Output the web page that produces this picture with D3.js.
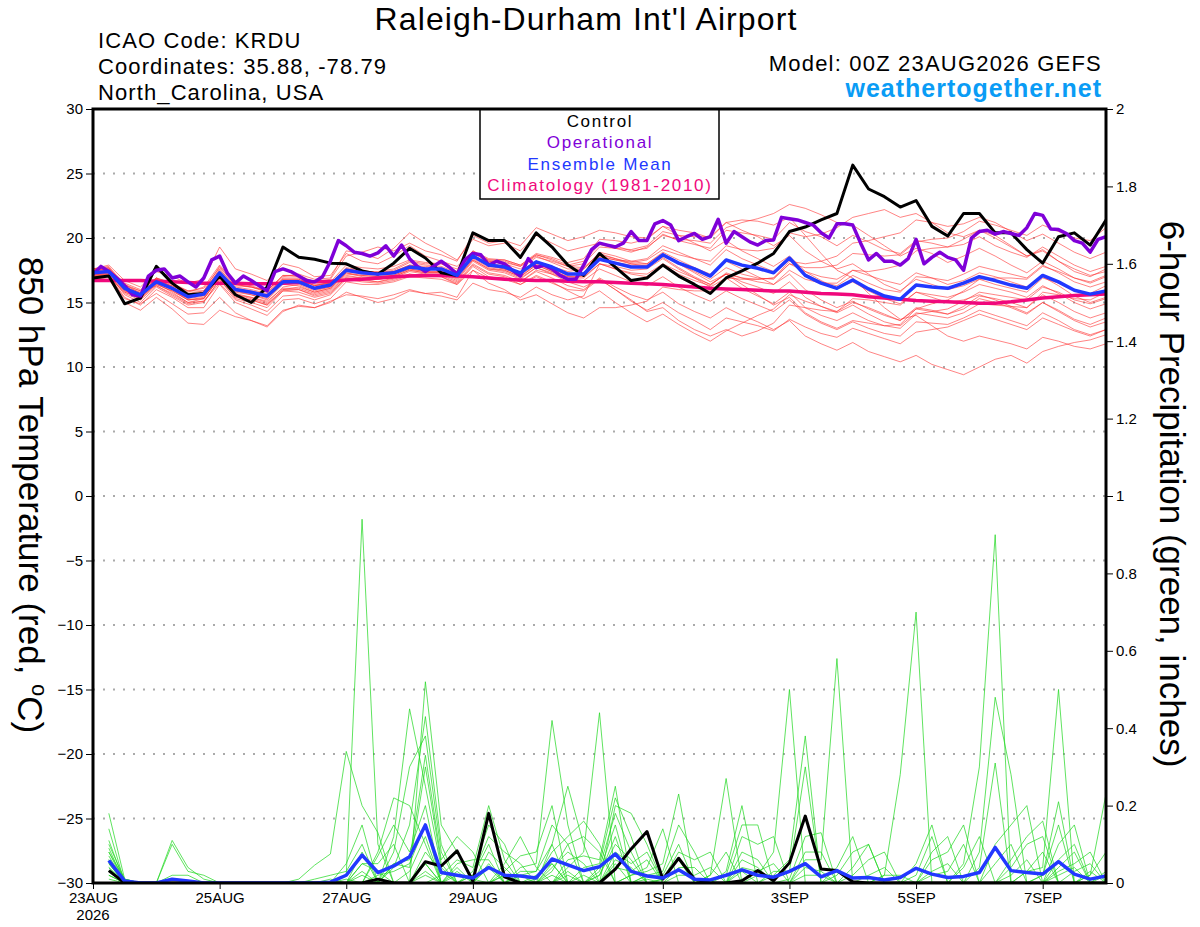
<!DOCTYPE html>
<html>
<head>
<meta charset="utf-8">
<script src="https://cdn.jsdelivr.net/npm/d3@7"></script>
<style>
  body { margin: 0; background: #fff; }
  text { font-family: "Liberation Sans", Arial, Helvetica, sans-serif; }
</style>
</head>
<body>
<svg id="chart" width="1200" height="927"></svg>
<script>
// ---- data ----
var runStart = Date.UTC(2026, 7, 23, 0);
var tempTicks = [-30, -25, -20, -15, -10, -5, 0, 5, 10, 15, 20, 25, 30];
var precipTicks = [0, 0.2, 0.4, 0.6, 0.8, 1, 1.2, 1.4, 1.6, 1.8, 2];
var dateTicks = ["2026-08-23", "2026-08-25", "2026-08-27", "2026-08-29", "2026-09-01", "2026-09-03", "2026-09-05", "2026-09-07"];

// 850 hPa temperature, 6-hourly from 00Z 23AUG
var controlTemp = [16.9,17.05,14.9,15.35,17.8,16.5,15.6,15.7, 17.05,15.6,15.0,16.2,19.3,18.5,18.35,18.05,
  18.0,17.45,17.2,18.05,19.2,18.45,17.3,17.1, 20.4,19.8,19.8,18.5,20.4,19.3,17.9,17.1,
  18.8,17.75,16.7,16.9,17.9,17.05,16.4,15.7, 16.9,17.45,18.05,18.8,20.5,20.85,21.4,21.9,
  25.65,23.8,23.2,22.4,22.9,20.9,20.15,21.9, 21.9,20.4,20.4,19.1,18.05,20.1,20.4,19.45, 21.4];
var meanTemp = [17.3,17.4,16.1,15.6,16.6,16.1,15.45,15.65, 17.3,16.0,15.8,15.5,16.6,16.6,16.1,16.35,
  17.5,17.3,17.2,17.3,17.75,17.6,17.6,17.1, 18.6,17.9,17.75,17.3,18.15,17.75,17.2,17.2,
  18.35,18.05,17.75,17.75,18.7,18.05,17.6,17.05, 18.3,17.9,17.65,17.3,18.45,17.1,16.5,16.1,
  16.75,16.05,15.5,15.25,16.35,16.2,16.1,16.5, 17.0,16.7,16.35,16.1,17.1,16.6,15.95,15.65, 15.9];
var climoTemp = [16.7,16.7,16.7,16.7,16.65,16.6,16.55,16.5, 16.5,16.5,16.45,16.45,16.5,16.55,16.6,16.65,
  16.75,16.8,16.9,17.0,17.05,17.1,17.1,17.05, 17.0,16.9,16.8,16.75,16.7,16.7,16.65,16.6,
  16.6,16.55,16.5,16.45,16.4,16.3,16.2,16.1, 16.05,16.0,15.95,15.9,15.9,15.8,15.7,15.65,
  15.6,15.45,15.35,15.25,15.15,15.1,15.05,15.0, 14.95,14.95,15.05,15.2,15.35,15.45,15.55,15.6, 15.65];
// operational run, 3-hourly
var operationalTemp = [17.2,17.8,17.4,16.9,16.3,15.6,15.5,17.05,17.5,17.6, 16.9,17.05,16.6,16.2,16.9,18.3,18.6,17.25,16.5,17.05,
  16.7,16.3,15.9,17.4,17.6,17.4,17.05,16.7,16.6,17.0, 18.2,19.8,19.4,18.9,18.8,18.6,18.85,19.4,18.6,19.45,
  18.4,17.8,17.4,17.8,18.2,17.75,17.2,18.3,18.8,18.7, 17.9,18.2,18.0,17.5,17.05,18.4,17.7,17.9,17.6,17.1,
  16.8,16.8,17.9,19.1,19.6,19.45,19.3,19.6,20.5,19.8, 19.8,21.1,21.35,21.0,19.8,20.1,20.35,19.9,20.1,21.45,
  19.6,20.5,20.1,19.7,19.45,19.8,19.85,21.6,21.5,21.4, 21.2,21.0,20.4,20.0,21.1,21.1,21.0,19.6,18.3,18.8,
  18.2,18.2,17.9,18.4,19.9,18.0,18.5,18.9,18.5,18.3, 17.5,20.0,20.5,20.6,20.3,20.5,20.35,20.2,20.8,21.9,
  21.75,20.7,20.65,20.35,19.8,19.6,18.9,19.9,20.1];
var memberTemp = [
  [17.5,17.6,16.0,15.2,16.9,16.5,15.8,16.2, 17.9,16.5,16.3,15.9,17.0,17.2,16.8,16.9, 19.0,18.8,18.4,19.2,20.4,19.6,19.0,18.3, 19.9,19.4,19.6,19.0,20.2,19.6,19.0,19.3, 19.6,19.4,19.0,19.2,20.3,19.8,19.5,19.2, 20.6,20.4,20.2,19.9,21.2,20.5,20.1,19.4, 20.2,19.7,19.1,18.8,19.8,19.6,19.3,19.5, 20.1,19.4,18.9,18.5,19.3,18.6,17.9,17.4, 17.8],
  [17.0,17.2,15.6,15.0,16.2,15.5,14.8,15.0, 16.8,15.3,15.0,14.6,15.9,15.8,15.4,15.7, 16.9,16.8,16.6,16.9,17.2,17.0,17.1,16.6, 18.0,17.3,17.1,16.6,17.4,16.9,16.3,16.0, 16.9,16.2,15.6,15.2,15.8,14.9,14.3,13.8, 14.6,14.0,13.5,12.9,13.6,12.4,11.8,11.3, 11.9,11.2,10.8,10.4,10.9,10.2,9.8,9.4, 10.0,10.6,10.9,10.3,11.2,11.6,11.9,12.1, 12.5],
  [17.6,17.8,16.3,15.9,16.8,16.0,15.2,15.4, 17.1,15.7,15.4,15.0,16.2,16.4,15.9,16.2, 17.3,17.0,16.9,17.0,17.5,17.3,17.4,16.9, 18.9,18.2,18.1,17.8,18.7,18.4,17.9,18.2, 19.5,19.2,18.9,19.3,20.2,19.9,19.8,19.6, 20.8,21.2,21.5,21.9,22.6,22.3,21.8,21.2, 21.0,20.2,19.4,18.6,19.2,18.8,18.1,18.6, 19.2,18.6,17.9,17.3,18.2,17.6,16.9,16.5, 17.0],
  [17.2,17.1,15.4,14.8,16.0,15.4,14.6,14.6, 16.4,15.0,14.5,14.0,15.2,15.3,14.9,15.3, 16.6,16.4,16.4,16.6,17.0,16.9,16.8,16.4, 17.8,17.0,16.8,16.4,17.0,16.5,16.0,15.9, 16.8,16.0,15.1,14.4,15.0,14.2,13.6,12.9, 13.8,13.5,13.2,12.8,13.7,13.1,12.6,12.3, 13.0,12.6,12.2,11.8,12.7,12.9,13.1,13.6, 14.1,13.7,13.3,12.9,13.8,13.3,12.8,12.4, 12.9],
  [17.4,17.5,16.4,15.7,16.8,16.4,15.9,15.9, 17.5,16.3,16.2,15.9,17.1,17.0,16.4,16.5, 17.7,17.5,17.3,17.4,17.9,17.7,17.5,17.0, 18.7,17.9,17.6,17.1,18.0,17.5,17.0,17.1, 18.5,18.3,18.2,18.4,19.4,18.9,18.4,17.9, 19.1,18.4,17.9,17.4,18.3,17.2,16.6,16.3, 17.1,16.5,16.0,15.8,17.0,16.9,16.7,17.2, 17.8,17.5,17.2,16.9,17.9,17.3,16.6,16.2, 16.6],
  [17.1,17.3,16.2,15.8,16.3,15.6,14.9,15.1, 16.5,15.2,14.8,14.3,15.5,15.6,15.2,15.6, 16.8,16.6,16.5,16.7,17.1,17.0,17.0,16.5, 17.9,17.2,17.0,16.4,17.1,16.6,15.9,15.3, 15.9,15.0,14.2,13.5,14.1,13.3,12.6,12.0, 12.8,13.4,14.0,14.5,15.6,15.1,14.7,14.3, 15.0,14.6,14.1,13.6,14.5,14.3,14.1,14.7, 15.5,15.3,15.0,14.6,15.6,15.0,14.3,13.8, 14.2],
  [17.3,17.5,16.1,15.6,16.7,16.3,15.6,15.6, 17.2,15.9,15.7,15.4,16.5,16.5,16.0,16.2, 17.4,17.2,17.1,17.2,17.8,17.6,17.6,17.2, 18.5,17.8,17.6,17.2,18.2,17.8,17.4,17.6, 18.9,18.6,18.2,18.0,18.8,18.0,17.4,16.8, 17.7,17.2,16.9,16.8,18.0,17.7,17.7,17.9, 18.8,18.7,18.6,18.7,19.7,19.9,20.0,20.5, 21.3,21.0,20.6,20.2,21.0,20.5,20.0,19.8, 20.8],
  [16.9,16.8,15.0,14.4,15.4,14.5,13.4,13.3, 14.4,13.9,13.6,13.2,14.4,14.7,14.6,15.1, 15.6,15.5,15.3,15.6,16.0,15.7,15.5,15.2, 16.5,16.0,15.8,15.4,16.2,15.6,15.2,15.5, 18.0,17.8,17.5,17.6,18.4,17.6,16.9,16.2, 16.9,16.1,15.5,14.9,15.8,14.6,14.0,13.6, 14.2,13.6,13.2,13.0,14.1,14.3,14.5,15.1, 15.8,15.6,15.4,15.2,16.2,15.8,15.2,14.9, 15.3],
  [17.5,17.7,16.5,16.0,16.9,16.2,15.5,15.8, 17.6,16.2,16.0,15.7,16.9,16.9,16.3,16.5, 17.6,17.4,17.3,17.5,18.1,17.9,17.8,17.3, 19.0,18.3,18.2,17.8,18.6,18.1,17.6,17.6, 18.7,18.4,18.1,18.3,19.1,18.7,18.4,18.2, 19.4,19.1,19.0,19.2,20.4,20.1,20.3,20.8, 21.6,21.9,22.2,21.6,21.9,21.2,20.4,20.1, 20.6,20.0,19.3,18.6,19.0,18.2,17.6,17.1, 17.4],
  [17.0,17.0,15.8,15.3,16.4,15.9,15.2,15.3, 16.9,15.6,15.4,15.1,16.1,16.1,15.7,16.0, 17.1,16.9,16.8,16.9,17.4,17.2,17.2,16.7, 18.2,17.5,17.3,16.8,17.7,17.3,16.8,16.7, 17.6,17.1,16.6,16.3,17.0,16.2,15.6,15.1, 15.9,15.3,14.8,14.3,15.2,14.1,13.4,12.9, 13.5,13.0,12.6,12.4,13.5,13.4,13.3,13.8, 14.4,14.0,13.6,13.2,14.2,13.6,12.9,12.5, 12.9],
  [17.4,17.6,16.2,15.5,16.6,16.3,15.7,15.9, 17.8,16.4,16.2,15.8,16.8,16.8,16.3,16.6, 17.9,17.7,17.6,17.8,18.3,18.1,18.0,17.4, 18.9,18.3,18.3,17.9,18.8,18.5,18.1,18.4, 19.9,19.8,19.6,19.9,20.9,20.6,20.4,20.0, 21.2,20.6,20.1,19.4,20.2,19.0,18.2,17.6, 18.0,17.2,16.4,15.9,16.8,16.4,16.0,16.3, 16.8,16.4,16.1,15.8,16.9,16.5,15.9,15.7, 16.3],
  [17.2,17.3,15.9,15.4,16.5,15.8,15.0,15.3, 17.0,15.6,15.3,14.9,16.0,16.2,15.8,16.1, 17.2,17.1,17.0,17.1,17.6,17.4,17.3,16.8, 18.3,17.6,17.4,16.9,17.7,17.2,16.6,16.2, 16.8,16.0,15.2,14.3,14.6,13.6,12.9,12.4, 12.9,12.4,12.8,13.4,14.8,14.6,14.4,14.3, 15.3,15.2,15.0,14.8,15.8,15.6,15.4,15.8, 16.4,16.1,15.8,15.4,16.3,15.7,15.0,14.5, 14.9],
  [17.5,17.6,16.4,15.9,16.9,16.5,15.9,16.1, 17.7,16.4,16.2,15.9,17.1,17.1,16.6,16.8, 18.6,18.9,19.3,19.0,19.6,19.0,18.7,18.2, 20.2,19.6,19.8,19.4,20.8,20.3,19.8,20.1, 20.6,20.4,20.1,20.0,20.9,20.2,19.6,19.0, 19.8,19.0,18.4,17.8,18.6,17.4,16.7,16.1, 16.6,15.9,15.3,14.9,15.8,15.4,15.0,15.2, 15.6,15.2,14.7,14.2,15.0,14.3,13.6,13.1, 13.5],
  [17.0,17.1,15.7,15.2,16.3,15.7,15.0,15.1, 16.7,15.4,15.2,14.8,15.9,16.0,15.6,15.9, 17.0,16.9,16.8,17.0,17.5,17.3,17.3,16.9, 18.3,17.6,17.5,17.0,17.9,17.4,17.0,17.0, 18.0,17.6,17.2,17.0,17.9,17.2,16.7,16.3, 17.3,16.9,16.6,16.4,17.5,16.8,16.5,16.5, 17.5,17.4,17.6,17.9,19.0,19.2,19.3,19.9, 20.6,20.2,19.4,18.6,19.1,18.2,17.4,17.0, 17.6],
  [17.1,17.0,15.3,14.9,15.7,14.9,14.1,14.2, 15.4,14.2,13.6,13.1,14.3,14.8,14.6,15.0, 15.8,15.4,15.0,15.3,15.9,15.7,15.8,15.4, 17.5,16.9,16.9,16.6,17.5,17.2,16.8,17.1, 18.3,18.1,17.9,17.9,18.7,18.0,17.3,16.6, 17.2,16.4,15.6,14.8,15.4,14.2,13.5,13.0, 13.6,13.4,13.2,13.3,14.5,14.9,15.2,15.9, 16.8,16.9,16.9,16.8,17.8,17.4,16.9,16.6, 17.1],
  [17.3,17.4,16.0,15.5,16.6,16.0,15.3,15.5, 17.2,15.8,15.6,15.2,16.4,16.3,15.8,16.1, 17.3,17.1,17.0,17.1,17.6,17.4,17.4,17.0, 18.4,17.7,17.5,17.0,17.9,17.4,16.9,16.9, 18.0,17.6,17.3,17.2,18.0,17.4,16.9,16.4, 17.2,16.6,16.2,15.7,16.6,15.4,14.7,14.2, 14.8,14.1,13.5,13.2,14.2,14.0,13.8,14.2, 14.9,14.8,14.7,14.6,15.8,15.6,15.3,15.2, 15.8],
  [17.6,17.7,16.2,15.7,16.8,16.2,15.5,15.7, 17.4,16.1,15.9,15.6,16.8,16.8,16.3,16.5, 17.6,17.4,17.3,17.4,17.9,17.8,17.7,17.2, 18.8,18.2,18.0,17.6,18.5,18.2,17.8,18.0, 19.3,19.2,19.1,19.4,20.5,20.2,20.1,20.1, 21.2,21.4,21.3,21.0,21.6,20.2,18.8,17.5, 16.9,15.7,14.6,13.7,14.0,13.2,12.4,12.0, 12.4,12.1,11.8,11.4,12.3,12.0,11.6,11.4, 11.8],
  [17.1,17.2,15.8,15.4,16.4,15.9,15.2,15.3, 16.9,15.5,15.2,14.8,16.0,16.0,15.5,15.8, 16.9,16.7,16.6,16.8,17.2,17.1,17.0,16.4, 17.5,16.5,16.0,15.2,15.6,14.9,14.2,13.8, 14.6,14.6,14.8,15.1,16.2,16.0,15.9,15.9, 16.9,16.8,16.8,16.9,18.0,17.4,17.0,16.8, 17.5,17.1,16.7,16.4,17.3,16.9,16.4,16.7, 17.3,17.0,16.6,16.2,17.0,16.3,15.5,15.0, 15.4],
  [17.6,17.9,16.7,16.2,17.4,17.0,16.5,16.8, 19.3,17.6,17.2,16.7,18.0,17.7,17.0,17.1, 18.8,18.2,18.0,18.6,19.4,18.6,18.2,17.8, 18.9,18.1,17.8,17.3,18.1,17.6,17.1,17.3, 18.6,18.3,18.0,18.0,18.9,18.3,17.7,17.2, 18.2,17.6,17.0,16.4,17.2,16.0,15.2,14.6, 15.1,14.5,14.0,13.6,14.6,14.4,14.1,14.5, 15.3,15.0,14.6,14.1,15.0,14.4,13.7,13.3, 13.8],
  [17.3,17.3,15.9,15.5,16.5,16.1,15.4,15.6, 17.1,15.9,15.6,15.3,16.5,16.5,16.1,16.4, 17.6,17.4,17.4,17.6,18.2,18.0,18.0,17.6, 19.0,18.4,18.3,17.9,18.7,18.3,17.8,17.7, 18.8,18.4,18.0,17.8,18.5,17.7,17.0,16.4, 17.2,16.9,16.8,16.9,18.2,18.0,18.2,18.6, 19.6,19.8,20.1,20.4,21.4,21.2,20.9,21.1, 21.6,21.2,20.5,19.8,20.3,19.6,18.9,18.4, 18.9]
];

// 6-hour precipitation (inches), periods ending 06Z 23AUG .. 00Z 8SEP
var controlPrecip = [0.032,0,0,0,0,0,0,0, 0,0,0,0,0,0,0,0, 0,0.01,0,0,0.055,0.044,0.083,0.005,
  0.18,0.016,0,0,0,0,0,0, 0.036,0.088,0.133,0.01,0.064,0.01,0,0, 0.006,0.032,0.006,0.052,0.173,0.036,0.032,0.003,
  0,0,0,0,0,0,0,0, 0,0,0,0,0,0,0,0];
var meanPrecip = [0.058,0.005,0,0,0.01,0.005,0,0, 0,0,0,0,0,0,0.002,0.02, 0.072,0.027,0.044,0.068,0.15,0.027,0.02,0.013,
  0.04,0.02,0.018,0.013,0.062,0.047,0.032,0.042, 0.075,0.03,0.018,0.013,0.034,0.01,0.008,0.02, 0.034,0.02,0.015,0.03,0.05,0.016,0.032,0.013,
  0.014,0.008,0.014,0.038,0.023,0.014,0.017,0.027, 0.092,0.032,0.027,0.023,0.055,0.023,0.01,0.018];
var memberPrecip = [
  [.18,.01,0,0,0,0,0,0, 0,0,0,0,0,0,0,0, 0,0,.08,.3,.38,.08,0,.02, .1,0,0,0,.05,0,0,0, .08,.05,.08,0,0,0,0,0, 0,.02,.08,.5,0,0,0,0, 0,0,0,0,.03,.05,0,0, 0,0,0,0,.02,.04,0,0],
  [.14,0,0,0,0,0,0,0, 0,0,0,0,0,0,0,0, 0,.07,.15,.08,.2,0,.04,0, 0,0,0,0,0,.06,.07,.06, .25,0,0,0,0,0,.02,.08, 0,0,0,0,0,0,0,.02, .06,.08,0,0,0,0,0,0, 0,0,.03,.08,0,0,0,0],
  [.11,0,0,0,0,0,0,0, 0,0,0,0,0,.01,.02,.03, .1,0,0,0,.02,0,0,0, 0,.03,.07,.08,.2,0,0,0, 0,.02,.03,.05,.23,0,0,0, 0,0,0,0,.08,.08,0,0, 0,0,0,0,0,0,0,.08, .48,.28,0,0,0,0,.02,.08],
  [.1,.01,0,0,0,0,0,0, 0,0,0,0,0,0,0,0, 0,.02,.03,.05,.15,0,0,.03, .15,.1,0,0,0,0,0,.04, .18,.08,0,0,0,0,0,0, .06,.04,0,0,0,0,0,0, 0,0,0,0,.08,.12,0,0, 0,0,0,0,.04,.08,0,0],
  [.09,0,0,0,.11,.04,.01,0, 0,0,0,0,0,0,0,0, 0,0,0,0,.08,.03,0,0, 0,0,0,0,.1,.25,.1,0, 0,0,0,.01,.08,.06,.08,0, 0,0,0,0,0,0,.04,.12, 0,0,0,0,0,0,0,0, 0,.06,.12,.16,0,0,0,0],
  [.08,0,0,0,0,0,0,0, 0,0,0,0,0,0,0,.02, .94,.1,0,0,0,0,0,0, 0,.05,.12,.04,0,0,0,.02, .12,0,0,0,0,0,0,.02, .15,.15,0,0,0,0,0,0, 0,.02,.02,0,0,0,0,0, 0,0,0,.02,.21,0,0,0],
  [.08,.01,0,0,0,0,0,0, 0,0,0,0,0,0,0,0, 0,0,.05,.06,.33,.06,.12,.08, 0,0,0,0,.02,0,0,0, .04,.03,.06,0,0,0,0,0, 0,0,.03,.03,.3,0,0,0, 0,0,0,0,.02,.03,.1,0, 0,0,0,0,0,.03,.05,0],
  [.07,0,0,0,0,0,0,0, 0,0,0,0,.01,.046,.075,.34, .2,.13,0,0,0,0,0,0, 0,0,.02,.03,.15,.1,0,0, 0,0,.01,0,0,0,.02,.27, 0,0,0,0,0,0,0,0, .02,.04,0,0,0,0,0,0, 0,0,.03,.04,.5,0,0,0],
  [.06,0,0,0,0,0,0,0, 0,0,0,0,0,0,0,0, .03,0,0,0,.05,0,.03,0, .08,.04,0,0,0,0,.04,.05, .22,.12,0,0,0,0,0,0, .03,0,0,0,0,0,0,0, 0,0,0,0,0,0,0,0, 0,0,0,0,0,0,0,0],
  [.06,0,0,0,.1,.03,.02,0, 0,0,0,0,0,0,0,0, 0,0,.05,.04,.3,.05,0,0, 0,0,0,.01,.08,.12,.16,.1, 0,0,0,.01,.06,0,0,0, 0,0,0,0,.04,.03,0,0, 0,0,0,0,0,0,0,0, .1,.15,.2,0,0,0,0,.02],
  [.05,0,0,0,0,0,0,0, 0,0,0,0,0,0,0,0, .08,0,0,0,0,.02,.06,.04, .2,.06,0,0,0,.03,0,0, .06,.04,0,0,0,0,0,0, .12,.1,.12,0,0,0,0,0, 0,0,0,.05,.15,0,0,0, 0,0,0,0,.1,.15,0,0],
  [.05,0,0,0,0,0,0,0, 0,0,0,0,0,0,.01,0, .02,0,0,0,.05,0,0,0, .05,0,.04,.05,.42,.15,0,0, 0,0,.02,.03,.15,.08,0,0, 0,0,0,0,.02,.02,0,0, 0,0,0,0,0,0,0,0, .05,.1,0,0,0,0,0,0],
  [.04,0,0,0,.02,.02,0,0, 0,0,0,0,0,0,0,0, 0,0,.12,.45,.25,.04,0,0, 0,0,.02,0,0,0,0,.02, .1,.06,0,0,0,0,0,0, 0,0,.02,.06,.38,0,0,0, 0,0,0,0,0,0,.05,.3, .9,0,0,0,0,0,.03,0],
  [.04,0,0,0,0,0,0,0, 0,0,0,0,0,0,0,.05, .15,0,0,0,0,0,.05,.06, .06,0,0,0,0,.04,.08,.44, 0,0,0,0,.02,.02,.04,0, 0,0,0,0,0,0,0,.04, .1,0,0,0,0,0,0,0, 0,.02,.06,0,0,0,0,0],
  [.03,0,0,0,0,0,0,0, 0,0,0,0,0,0,0,0, 0,.08,.22,.2,.1,0,0,0, 0,.02,0,.02,.05,0,0,0, .05,0,0,0,0,0,0,0, .04,.03,.05,0,0,0,0,0, 0,0,0,0,.06,.08,.15,0, 0,0,0,0,.03,.05,.08,0],
  [.03,0,0,0,.01,0,0,0, 0,0,0,0,0,0,0,0, 0,0,0,0,.52,.15,.08,0, 0,0,0,0,.04,.08,.05,0, 0,0,.02,.02,.1,0,0,0, 0,0,0,0,.06,.06,.58,0, 0,0,0,0,0,0,0,.04, .31,0,0,0,0,0,0,.03],
  [.02,0,0,0,0,0,0,0, 0,0,0,0,0,0,0,0, .05,.05,.1,0,0,0,0,.02, .12,.08,.05,0,0,.02,0,.03, .15,0,0,0,0,0,0,.03, .2,0,0,0,0,0,0,0, 0,.02,.28,.7,0,0,0,0, 0,0,0,.02,.15,0,0,0],
  [.02,0,0,0,0,0,0,0, 0,0,0,0,0,0,0,0, 0,0,.04,.15,.43,.1,0,0, 0,0,.03,.03,.1,0,0,0, 0,.02,.04,.14,0,0,0,0, 0,0,0,.01,.12,.13,0,0, 0,0,0,0,0,0,.04,.12, 0,0,0,0,0,0,.02,.23],
  [.01,0,0,0,0,0,0,0, 0,0,0,0,0,0,0,.01, 0,0,0,.03,.12,0,0,0, .04,0,0,0,.03,.1,.12,.08, 0,0,0,0,.04,.04,0,0, 0,0,0,0,0,0,.02,.08, .1,0,0,0,0,0,0,0, 0,.04,.1,.12,0,0,0,0],
  [0,0,0,0,0,0,0,0, 0,0,0,0,0,0,0,0, .05,.03,0,0,.03,0,.02,.01, 0,.02,0,0,0,0,.02,0, .2,.18,.1,0,0,0,0,0, .08,.06,0,0,0,0,0,0, 0,0,0,.02,.12,0,0,0, 0,0,0,0,.06,.1,0,0]
];

// ---- layout ----
var plotLeft = 93, plotRight = 1106, plotTop = 109, plotBottom = 883;
var HOUR = 3600000;
var colControl = "#000000", colOper = "#7f00d8", colMean = "#2238ff", colClimo = "#f0087c";

var svg = d3.select("#chart");

var x = d3.scaleUtc()
    .domain([new Date(runStart), new Date(runStart + 384 * HOUR)])
    .range([plotLeft, plotRight]);
var yT = d3.scaleLinear().domain([-30, 30]).range([plotBottom, plotTop]);
var yP = d3.scaleLinear().domain([0, 2]).range([plotBottom, plotTop]);

function hoursToDate(h) { return new Date(runStart + h * HOUR); }

var tempLine = function(step) {
    return d3.line()
        .x(function(d, i) { return x(hoursToDate(i * step)); })
        .y(function(d) { return yT(d); });
};
var precipLine = d3.line()
    .x(function(d, i) { return x(hoursToDate((i + 1) * 6)); })
    .y(function(d) { return yP(d); });

// dotted grid
svg.append("g")
    .selectAll("line")
    .data(tempTicks.filter(function(t) { return t > -30 && t < 30; }))
    .enter().append("line")
    .attr("x1", plotLeft).attr("x2", plotRight)
    .attr("y1", function(d) { return yT(d); })
    .attr("y2", function(d) { return yT(d); })
    .attr("stroke", "#aaaaaa")
    .attr("stroke-width", 2)
    .attr("stroke-dasharray", "2,8");

svg.append("clipPath").attr("id", "plotClip")
    .append("rect")
    .attr("x", plotLeft).attr("y", plotTop)
    .attr("width", plotRight - plotLeft).attr("height", plotBottom - plotTop);

var plot = svg.append("g").attr("clip-path", "url(#plotClip)");

// ensemble members
plot.append("g").selectAll("path")
    .data(memberTemp)
    .enter().append("path")
    .attr("d", tempLine(6))
    .attr("fill", "none")
    .attr("stroke", "#ff3030")
    .attr("stroke-opacity", 0.75)
    .attr("stroke-width", 0.8);

plot.append("g").selectAll("path")
    .data(memberPrecip)
    .enter().append("path")
    .attr("d", precipLine)
    .attr("fill", "none")
    .attr("stroke", "#22d822")
    .attr("stroke-opacity", 0.9)
    .attr("stroke-width", 0.8);

// thick lines
plot.append("path").datum(climoTemp)
    .attr("d", tempLine(6)).attr("fill", "none")
    .attr("stroke", colClimo).attr("stroke-width", 3.5);
plot.append("path").datum(controlTemp)
    .attr("d", tempLine(6)).attr("fill", "none")
    .attr("stroke", colControl).attr("stroke-width", 3).attr("stroke-linejoin", "round");
plot.append("path").datum(operationalTemp)
    .attr("d", tempLine(3)).attr("fill", "none")
    .attr("stroke", colOper).attr("stroke-width", 3.5).attr("stroke-linejoin", "round");
plot.append("path").datum(meanTemp)
    .attr("d", tempLine(6)).attr("fill", "none")
    .attr("stroke", colMean).attr("stroke-width", 3.5).attr("stroke-linejoin", "round");

plot.append("path").datum(controlPrecip)
    .attr("d", precipLine).attr("fill", "none")
    .attr("stroke", colControl).attr("stroke-width", 3).attr("stroke-linejoin", "round");
plot.append("path").datum(meanPrecip)
    .attr("d", precipLine).attr("fill", "none")
    .attr("stroke", colMean).attr("stroke-width", 3.5).attr("stroke-linejoin", "round");

// axes
var leftAxis = svg.append("g")
    .attr("transform", "translate(" + plotLeft + ",0)")
    .call(d3.axisLeft(yT).tickValues(tempTicks).tickSize(7).tickPadding(3));
var rightAxis = svg.append("g")
    .attr("transform", "translate(" + plotRight + ",0)")
    .call(d3.axisRight(yP).tickValues(precipTicks).tickSize(7).tickPadding(3)
        .tickFormat(function(d) { return String(+d.toFixed(1)); }));
var fmtDay = d3.utcFormat("%-d%b");
var bottomAxis = svg.append("g")
    .attr("transform", "translate(0," + plotBottom + ")")
    .call(d3.axisBottom(x)
        .tickValues(dateTicks.map(function(s) { return new Date(s + "T00:00:00Z"); }))
        .tickSize(6).tickPadding(3)
        .tickFormat(function(d) { return fmtDay(d).toUpperCase(); }));

[leftAxis, rightAxis, bottomAxis].forEach(function(a) {
    a.select(".domain").remove();
    a.selectAll("text").attr("font-size", 15).attr("fill", "#000")
        .style("font-family", "'Liberation Sans', Arial, sans-serif");
    a.selectAll("line").attr("stroke", "#000");
});
bottomAxis.append("text")
    .attr("x", x(new Date(runStart))).attr("y", 37)
    .attr("text-anchor", "middle").attr("font-size", 15).attr("fill", "#000")
    .text("2026");

// legend box
var legend = svg.append("g");
legend.append("rect")
    .attr("x", 480).attr("y", plotTop).attr("width", 239).attr("height", 90)
    .attr("fill", "#fff").attr("stroke", "#000").attr("stroke-width", 1.5);
var legendItems = [
    { label: "Control", color: colControl },
    { label: "Operational", color: colOper },
    { label: "Ensemble Mean", color: colMean },
    { label: "Climatology (1981-2010)", color: colClimo }
];
legend.selectAll("text.item")
    .data(legendItems)
    .enter().append("text")
    .attr("class", "item")
    .attr("x", 600)
    .attr("y", function(d, i) { return 127 + i * 21.3; })
    .attr("text-anchor", "middle")
    .attr("font-size", 17)
    .attr("letter-spacing", 1.7)
    .attr("fill", function(d) { return d.color; })
    .text(function(d) { return d.label; });

// frame
svg.append("rect")
    .attr("x", plotLeft).attr("y", plotTop)
    .attr("width", plotRight - plotLeft).attr("height", plotBottom - plotTop)
    .attr("fill", "none").attr("stroke", "#000").attr("stroke-width", 3);

// titles
svg.append("text").attr("x", 586).attr("y", 30)
    .attr("text-anchor", "middle").attr("font-size", 32).attr("letter-spacing", 1.1)
    .text("Raleigh-Durham Int'l Airport");
var info = ["ICAO Code: KRDU", "Coordinates: 35.88, -78.79", "North_Carolina, USA"];
svg.selectAll("text.info").data(info).enter().append("text")
    .attr("class", "info")
    .attr("x", 98).attr("y", function(d, i) { return 47.5 + i * 26; })
    .attr("font-size", 22).attr("letter-spacing", 1.1)
    .text(function(d) { return d; });
svg.append("text").attr("x", 1102).attr("y", 71)
    .attr("text-anchor", "end").attr("font-size", 22).attr("letter-spacing", 1.2)
    .text("Model: 00Z 23AUG2026 GEFS");
svg.append("text").attr("x", 1102).attr("y", 97)
    .attr("text-anchor", "end").attr("font-size", 25).attr("font-weight", "bold")
    .attr("letter-spacing", 1.0)
    .attr("fill", "#0a9cf5")
    .text("weathertogether.net");

// axis titles
var leftTitle = svg.append("text")
    .attr("transform", "translate(31,495) rotate(90)")
    .attr("text-anchor", "middle").attr("dy", "0.35em")
    .attr("font-size", 35);
leftTitle.append("tspan").text("850 hPa Temperature (red, ");
leftTitle.append("tspan").attr("font-size", 22).attr("dy", "-0.6em").text("o");
leftTitle.append("tspan").attr("dy", "0.4em").text("C)");

svg.append("text")
    .attr("transform", "translate(1172,494) rotate(90)")
    .attr("text-anchor", "middle").attr("dy", "0.35em")
    .attr("font-size", 35)
    .text("6-hour Precipitation (green, inches)");
</script>
</body>
</html>
